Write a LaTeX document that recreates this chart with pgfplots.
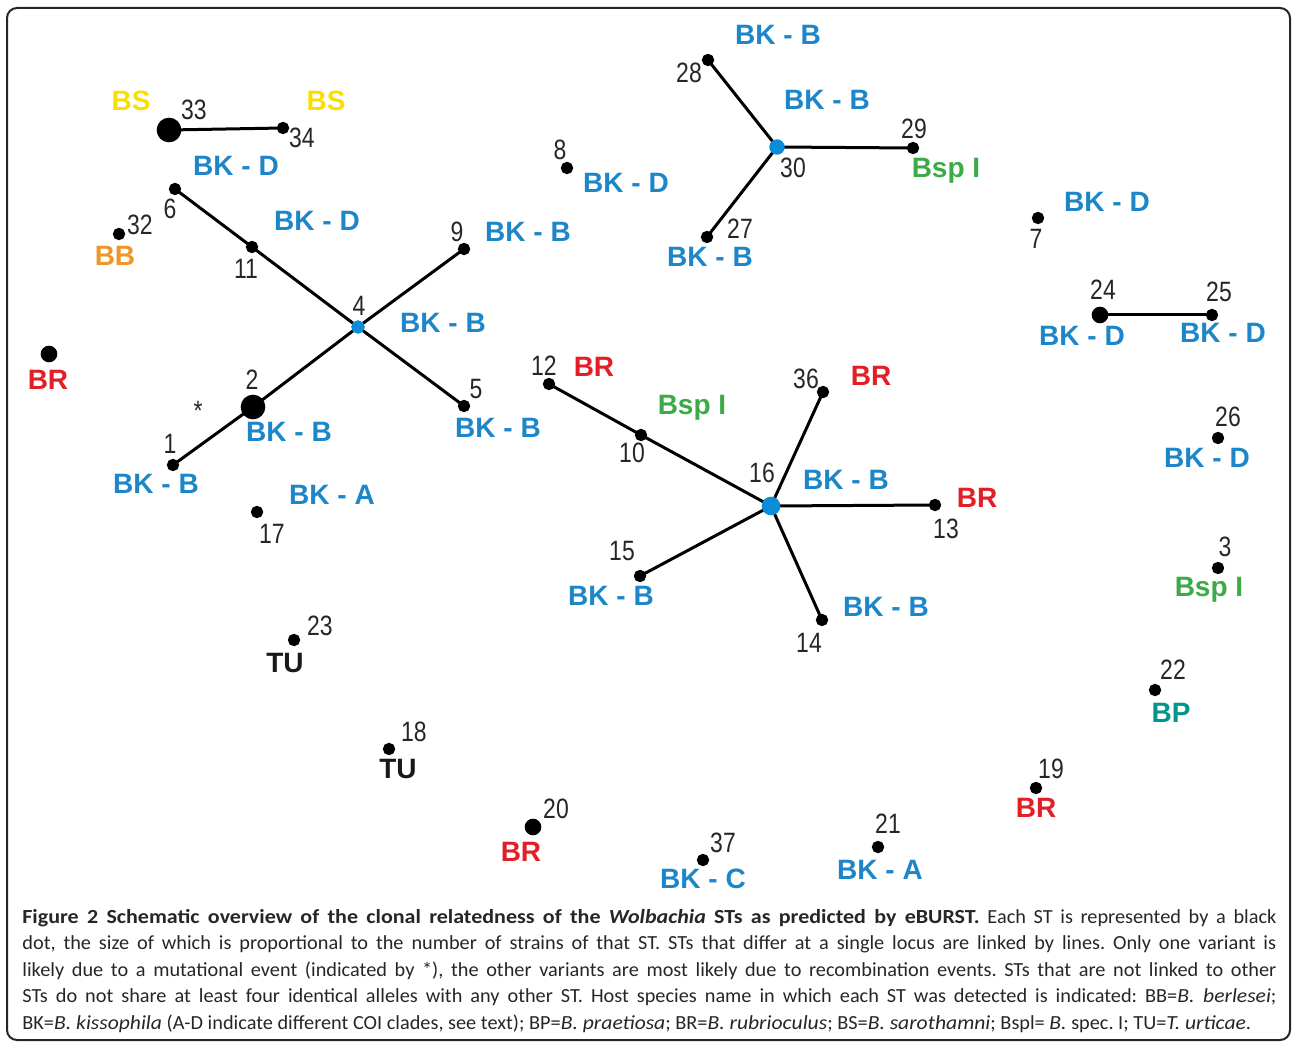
\documentclass[border=0pt]{standalone}
\usepackage{pgfplots}
\pgfplotsset{compat=1.18}
\usepackage{fontspec}
\setmainfont{Liberation Sans}
\newfontfamily\labfont{Liberation Sans}
\newfontfamily\numfont[FakeStretch=0.82]{Liberation Sans}
\newfontfamily\capfont[FakeStretch=1.015,
  ItalicFeatures={FakeStretch=1.08},
  BoldFeatures={FakeStretch=1.1},
  BoldItalicFeatures={FakeStretch=1.1}]{Carlito}
\definecolor{cblue}{RGB}{28,134,200}
\definecolor{dblue}{RGB}{10,140,215}
\definecolor{cred}{RGB}{226,30,38}
\definecolor{cgreen}{RGB}{60,170,70}
\definecolor{cyellow}{RGB}{250,222,0}
\definecolor{corange}{RGB}{240,150,40}
\definecolor{cteal}{RGB}{0,150,140}
\tikzset{num/.style={font=\numfont\fontsize{14}{14}\selectfont, inner sep=0pt, text=black!85},
  lab/.style={font=\labfont\bfseries\fontsize{14}{14}\selectfont, inner sep=0pt}}
\begin{document}
\frenchspacing
\begin{tikzpicture}
\begin{axis}[scale only axis, width=646pt, height=521.5pt,
  xmin=0, xmax=1292, ymin=0, ymax=1043, y dir=reverse,
  hide axis, clip=false]
% frame
\draw[line width=1pt, rounded corners=5pt, black!85] (axis cs:7,8) rectangle (axis cs:1290,1040);
% edges
\pgfplotsset{every axis plot/.append style={line width=1.5pt, black}}
\addplot[no marks] coordinates {(169,130) (283,128)};
\addplot[no marks] coordinates {(175,189) (252,247) (358,327)};
\addplot[no marks] coordinates {(358,327) (464,249)};
\addplot[no marks] coordinates {(358,327) (464,406)};
\addplot[no marks] coordinates {(358,327) (253,407) (173,465)};
\addplot[no marks] coordinates {(708,60) (777,147)};
\addplot[no marks] coordinates {(777,147) (913,148)};
\addplot[no marks] coordinates {(777,147) (707,237)};
\addplot[no marks] coordinates {(549,384) (641,435) (771,506)};
\addplot[no marks] coordinates {(771,506) (823,392)};
\addplot[no marks] coordinates {(771,506) (935,505)};
\addplot[no marks] coordinates {(771,506) (822,620)};
\addplot[no marks] coordinates {(771,506) (640,576)};
\addplot[no marks] coordinates {(1100,315) (1212,315)};
% dots
\addplot[only marks, mark=*, mark size=2.3pt, black] coordinates {
(283,128) (175,189) (252,247) (464,249) (464,406) (173,465) (119,234)
(257,512) (294,640) (389,749) (703,860) (878,847) (567,168) (708,60)
(913,148) (707,237) (1038,218) (1212,315) (1218,438) (1218,568)
(1155,690) (1036,788) (549,384) (641,435) (823,392) (935,505)
(822,620) (640,576)};
\addplot[only marks, mark=*, mark size=3.4pt, black] coordinates {
(49,354) (533,827) (1100,315)};
\addplot[only marks, mark=*, mark size=5.4pt, black] coordinates {
(169,130) (253,407)};
\addplot[only marks, mark=*, mark size=2.6pt, dblue, draw=dblue] coordinates {(358,327)};
\addplot[only marks, mark=*, mark size=3.1pt, dblue, draw=dblue] coordinates {(777,147)};
\addplot[only marks, mark=*, mark size=3.9pt, dblue, draw=dblue] coordinates {(771,506)};
% numbers
\foreach \x/\y/\t in {194/110/33, 302/138/34, 170/209/6, 140/225/32, 246/269/11,
  457/232/9, 359/306/4, 252/380/2, 170/444/1, 476/389/5, 272/534/17, 320/626/23,
  414/732/18, 556/809/20, 723/843/37, 888/824/21, 560/150/8, 689/73/28, 914/129/29,
  793/168/30, 740/229/27, 544/366/12, 632/453/10, 806/379/36, 762/473/16, 946/529/13,
  622/551/15, 809/643/14, 1036/239/7, 1103/290/24, 1219/292/25, 1228/417/26,
  1225/547/3, 1173/670/22, 1051/769/19}
  {\edef\temp{\noexpand\node[num] at (axis cs:\x,\y) {\t};}\temp}
\node[num] at (axis cs:198,411) {*};
% host labels
\foreach \x/\y/\t in {236/166/BK - D, 317/221/BK - D, 528/232/BK - B, 443/323/BK - B,
  289/432/BK - B, 156/484/BK - B, 498/428/BK - B, 332/495/BK - A, 703/879/BK - C,
  880/870/BK - A, 626/183/BK - D, 778/35/BK - B, 827/100/BK - B, 710/257/BK - B,
  846/480/BK - B, 611/596/BK - B, 886/607/BK - B, 1107/202/BK - D, 1082/336/BK - D,
  1223/333/BK - D, 1207/458/BK - D}
  {\edef\temp{\noexpand\node[lab, text=cblue] at (axis cs:\x,\y) {\t};}\temp}
\foreach \x/\y in {48/380, 521/852, 594/367, 871/376, 977/498, 1036/808}
  {\edef\temp{\noexpand\node[lab, text=cred] at (axis cs:\x,\y) {BR};}\temp}
\foreach \x/\y in {946/171, 692/408, 1209/590}
  {\edef\temp{\noexpand\node[lab, text=cgreen] at (axis cs:\x,\y) {Bsp I};}\temp}
\node[lab, text=cyellow] at (axis cs:131,101) {BS};
\node[lab, text=cyellow] at (axis cs:326,101) {BS};
\node[lab, text=corange] at (axis cs:115,256) {BB};
\node[lab, text=cteal] at (axis cs:1171,713) {BP};
\node[lab, text=black!90] at (axis cs:285,663) {TU};
\node[lab, text=black!90] at (axis cs:398,769) {TU};
% caption
\node[anchor=north west, inner sep=0pt, text width=627pt, align=justify,
  font=\capfont\fontsize{10}{13.25}\selectfont\frenchspacing, text=black!85] at (axis cs:22,909)
{\textbf{Figure 2 Schematic overview of the clonal relatedness of the \textit{Wolbachia} STs as predicted by eBURST.} Each ST is represented by a black\linebreak
dot, the size of which is proportional to the number of strains of that ST. STs that differ at a single locus are linked by lines. Only one variant is\linebreak
likely due to a mutational event (indicated by *), the other variants are most likely due to recombination events. STs that are not linked to other\linebreak
STs do not share at least four identical alleles with any other ST. Host species name in which each ST was detected is indicated: BB=\textit{B. berlesei};\linebreak
BK=\textit{B. kissophila} (A-D indicate different COI clades, see text); BP=\textit{B. praetiosa}; BR=\textit{B. rubrioculus}; BS=\textit{B. sarothamni}; Bspl= \textit{B.} spec. I; TU=\textit{T. urticae}.\par};
\path (rel axis cs:0,0) rectangle (rel axis cs:1,1);
\end{axis}
\end{tikzpicture}
\end{document}
